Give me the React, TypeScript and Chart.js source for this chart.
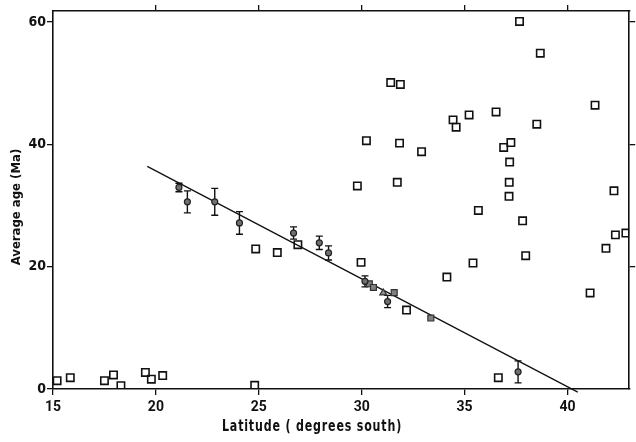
import React, { useEffect, useRef } from "react";
import { Chart, registerables } from "chart.js";

Chart.register(...registerables);

// Open squares (latitude °S, average age Ma)
const squareLat = [
  15.2, 15.84, 17.5, 17.94, 18.3, 19.49, 19.78, 20.33, 24.8,
  24.85, 25.9, 26.9,
  29.79, 29.97, 30.23, 31.41, 31.73, 31.84, 31.88, 32.18, 32.91,
  34.14, 34.44, 34.59, 35.22, 35.41, 35.67, 36.53, 36.64, 36.9,
  37.16, 37.17, 37.19, 37.25, 37.67, 37.82, 37.97, 38.51, 38.68,
  41.1, 41.34, 41.87, 42.26, 42.33, 42.84,
];
const squareAge = [
  1.35, 1.84, 1.35, 2.3, 0.54, 2.7, 1.6, 2.2, 0.6,
  22.9, 22.3, 23.6,
  33.2, 20.7, 40.6, 50.1, 33.8, 40.2, 49.8, 12.9, 38.8,
  18.3, 44.0, 42.8, 44.8, 20.6, 29.2, 45.3, 1.85, 39.5,
  31.5, 33.8, 37.1, 40.3, 60.1, 27.5, 21.8, 43.3, 54.9,
  15.7, 46.4, 23.0, 32.4, 25.2, 25.5,
];

// Filled circles with error bars
const dotLat = [21.12, 21.53, 22.86, 24.06, 26.69, 27.94, 28.39, 30.16, 31.26, 37.6];
const dotAge = [32.95, 30.6, 30.6, 27.15, 25.5, 23.9, 22.25, 17.6, 14.3, 2.8];
const dotErr = [0.7, 1.8, 2.2, 1.85, 1.0, 1.1, 1.15, 0.9, 1.0, 1.8];

// Filled grey squares and triangle (no error bars)
const greySqLat = [30.37, 30.57, 31.58, 33.36];
const greySqAge = [17.2, 16.6, 15.75, 11.6];
const triLat = [31.05];
const triAge = [15.7];

// Regression line end points
const fitLat = [19.58, 40.5];
const fitAge = [36.4, -0.5];

const xTicks = [15, 20, 25, 30, 35, 40];
const yTicks = [0, 20, 40, 60];
const xTitle = "Latitude ( degrees south)";
const yTitle = "Average age (Ma)";

const pts = (xs: number[], ys: number[]) => xs.map((v, i) => ({ x: v, y: ys[i] }));

const condensed = '"DejaVu Sans Condensed", sans-serif';

const errorBars = {
  id: "errorBars",
  beforeDatasetsDraw(chart: any) {
    const { ctx, scales } = chart;
    const xs = scales.x;
    const ys = scales.y;
    ctx.save();
    ctx.strokeStyle = "#111";
    ctx.lineWidth = 1.4;
    dotLat.forEach((lat, i) => {
      const px = xs.getPixelForValue(lat);
      const top = ys.getPixelForValue(dotAge[i] + dotErr[i]);
      const bot = ys.getPixelForValue(dotAge[i] - dotErr[i]);
      ctx.beginPath();
      ctx.moveTo(px, top);
      ctx.lineTo(px, bot);
      ctx.moveTo(px - 3.5, top);
      ctx.lineTo(px + 3.5, top);
      ctx.moveTo(px - 3.5, bot);
      ctx.lineTo(px + 3.5, bot);
      ctx.stroke();
    });
    ctx.restore();
  },
};

const titles = {
  id: "titles",
  afterDraw(chart: any) {
    const { ctx } = chart;
    ctx.save();
    ctx.fillStyle = "#111";
    ctx.textAlign = "center";
    ctx.textBaseline = "middle";
    ctx.save();
    ctx.translate(312, 427);
    ctx.scale(0.82, 1);
    ctx.font = "bold 15px " + condensed;
    try { (ctx as any).letterSpacing = "1px"; } catch (e) {}
    ctx.fillText(xTitle, 0, 0);
    ctx.restore();
    ctx.translate(17, 207);
    ctx.rotate(-Math.PI / 2);
    ctx.font = "bold 13px " + condensed;
    ctx.fillText(yTitle, 0, 0);
    ctx.restore();
  },
};

export default function App() {
  const ref = useRef<HTMLCanvasElement>(null);
  useEffect(() => {
    if (!ref.current) return;
    const axisCommon = {
      type: "linear" as const,
      grid: { drawOnChartArea: false, tickLength: 6, color: "#111", lineWidth: 1.3 },
      border: { color: "#111", width: 1.6 },
    };
    const chart = new Chart(ref.current, {
      type: "scatter",
      data: {
        datasets: [
          {
            label: "squares",
            data: pts(squareLat, squareAge),
            pointStyle: "rect",
            pointRadius: 5.2,
            borderColor: "#111",
            borderWidth: 1.6,
            backgroundColor: "transparent",
          },
          {
            label: "dots",
            data: pts(dotLat, dotAge),
            pointStyle: "circle",
            pointRadius: 3,
            borderColor: "#222",
            borderWidth: 1.2,
            backgroundColor: "#707070",
          },
          {
            label: "greySquares",
            data: pts(greySqLat, greySqAge),
            pointStyle: "rect",
            pointRadius: 4.2,
            borderColor: "#333",
            borderWidth: 1.2,
            backgroundColor: "#808080",
          },
          {
            label: "triangle",
            data: pts(triLat, triAge),
            pointStyle: "triangle",
            pointRadius: 4,
            borderColor: "#333",
            borderWidth: 1.2,
            backgroundColor: "#909090",
          },
          {
            type: "line",
            label: "fit",
            data: pts(fitLat, fitAge),
            borderColor: "#111",
            borderWidth: 1.3,
            pointRadius: 0,
            showLine: true,
            clip: false as any,
          } as any,
        ],
      },
      options: {
        responsive: false,
        animation: false,
        layout: { padding: 0 },
        plugins: { legend: { display: false }, tooltip: { enabled: false } },
        scales: {
          x: {
            ...axisCommon,
            position: "bottom",
            min: 15,
            max: 43,
            afterBuildTicks: (s: any) => { s.ticks = xTicks.map((v) => ({ value: v })); },
            ticks: { color: "#111", padding: 4, maxRotation: 0, font: { family: "Roboto, sans-serif", size: 14, weight: "bold" } },
            afterFit: (s: any) => { s.height = 53; },
          },
          x2: {
            ...axisCommon,
            position: "top",
            min: 15,
            max: 43,
            afterBuildTicks: (s: any) => { s.ticks = xTicks.slice(1).map((v) => ({ value: v })); },
            ticks: { display: false },
            afterFit: (s: any) => { s.height = 11; },
          },
          y: {
            ...axisCommon,
            position: "left",
            min: 0,
            max: 61.8,
            afterBuildTicks: (s: any) => { s.ticks = yTicks.map((v) => ({ value: v })); },
            ticks: { color: "#111", padding: 1, font: { family: condensed, size: 14, weight: "bold" } },
            afterFit: (s: any) => { s.width = 53; },
          },
          y2: {
            ...axisCommon,
            position: "right",
            min: 0,
            max: 61.8,
            afterBuildTicks: (s: any) => { s.ticks = yTicks.slice(1).map((v) => ({ value: v })); },
            ticks: { display: false },
            afterFit: (s: any) => { s.width = 6; },
          },
        },
      } as any,
      plugins: [errorBars, titles],
    });
    return () => chart.destroy();
  }, []);
  return (
    <div style={{ position: "fixed", left: 0, top: 0, width: 636, height: 442, background: "#fff" }}>
      <canvas ref={ref} width={636} height={442} />
    </div>
  );
}
